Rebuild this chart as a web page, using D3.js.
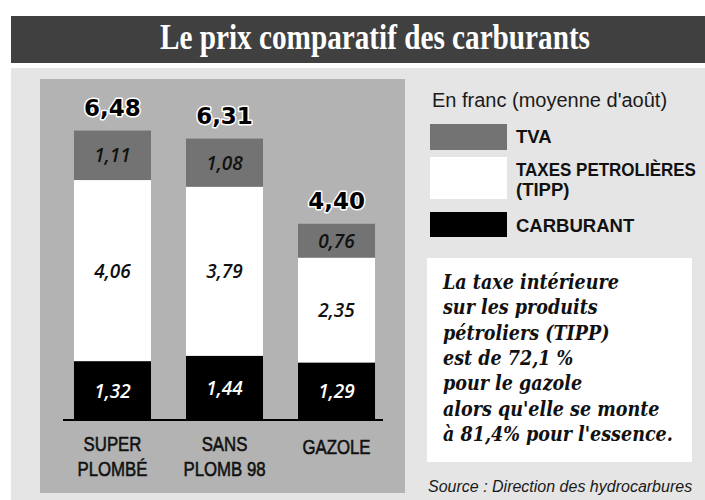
<!DOCTYPE html>
<html>
<head>
<meta charset="utf-8">
<script src="https://cdn.jsdelivr.net/npm/d3@7"></script>
<style>
  body { margin: 0; background: #ffffff; }
  svg { display: block; }
</style>
</head>
<body>
<div id="chart"></div>
<script>

// categories and values (francs, moyenne d'août)
const categories = [ 'SUPER PLOMBÉ', 'SANS PLOMB 98', 'GAZOLE' ];
const categoryLines = [ [ 'SUPER', 'PLOMBÉ' ], [ 'SANS', 'PLOMB 98' ], [ 'GAZOLE' ] ];
const carburant = [ 1.32, 1.44, 1.29 ];
const tipp = [ 4.06, 3.79, 2.35 ];
const tva = [ 1.11, 1.08, 0.76 ];
const totals = [ 6.48, 6.31, 4.40 ];

const seriesKeys = [ 'carburant', 'tipp', 'tva' ];
const legendKeys = [ 'tva', 'tipp', 'carburant' ];
const legendLabels = [ [ 'TVA' ], [ 'TAXES PETROLIÈRES', '(TIPP)' ], [ 'CARBURANT' ] ];

const noteLines = [
  'La taxe intérieure',
  'sur les produits',
  'pétroliers (TIPP)',
  'est de 72,1 %',
  'pour le gazole',
  'alors qu\'elle se monte',
  'à 81,4% pour l\'essence.'
];

const colors = { tva: '#737373', tipp: '#ffffff', carburant: '#000000' };
const labelColors = { tva: '#111111', tipp: '#111111', carburant: '#ffffff' };

const fr = d3.formatLocale( { decimal: ',', thousands: ' ', grouping: [ 3 ], currency: [ '', ' F' ] } );
const fmt = fr.format( '.2f' );

const width = 705;
const height = 500;

const rows = categories.map( ( c, i ) => ( {
  category: c,
  carburant: carburant[ i ],
  tipp: tipp[ i ],
  tva: tva[ i ],
  total: totals[ i ]
} ) );

/**
 * Creates the root svg
 */
function createSVGElement( container ) {
  return d3.select( container )
    .append( 'svg' )
    .attr( 'width', width )
    .attr( 'height', height );
}

/**
 * Squeezes a left anchored text horizontally if it is wider than maxWidth
 */
function fitText( node, maxWidth ) {
  const w = node.getComputedTextLength();
  if ( w > maxWidth ) {
    const t = d3.select( node );
    const x = +t.attr( 'x' );
    const y = +t.attr( 'y' );
    t.attr( 'x', 0 ).attr( 'y', 0 )
      .attr( 'transform', `translate(${x},${y}) scale(${maxWidth / w},1)` );
  }
}

const svg = createSVGElement( '#chart' );

// backgrounds
svg.append( 'rect' )
  .attr( 'x', 11 ).attr( 'y', 16 )
  .attr( 'width', width - 11 ).attr( 'height', 47 )
  .attr( 'fill', '#404040' );

svg.append( 'rect' )
  .attr( 'x', 11 ).attr( 'y', 68 )
  .attr( 'width', width - 11 ).attr( 'height', height - 68 )
  .attr( 'fill', '#e5e5e5' );

svg.append( 'rect' )
  .attr( 'x', 40 ).attr( 'y', 79 )
  .attr( 'width', 365 ).attr( 'height', 414 )
  .attr( 'fill', '#b3b3b3' );

// title
svg.append( 'text' )
  .attr( 'x', 375 )
  .attr( 'y', 49 )
  .attr( 'text-anchor', 'middle' )
  .attr( 'textLength', 430 )
  .attr( 'lengthAdjust', 'spacingAndGlyphs' )
  .style( 'font-family', '"Liberation Serif", "DejaVu Serif", serif' )
  .style( 'font-weight', 'bold' )
  .style( 'font-size', '35px' )
  .style( 'fill', '#ffffff' )
  .text( 'Le prix comparatif des carburants' );

// scales
const xScale = d3.scaleBand()
  .domain( categories )
  .range( [ 63, 386 ] )
  .paddingInner( 0.3125 )
  .paddingOuter( 0.098 );

const yScale = d3.scaleLinear()
  .domain( [ 0, d3.max( totals ) ] )
  .range( [ 420, 131 ] );

const stacked = d3.stack().keys( seriesKeys )( rows );

const plot = svg.append( 'g' );

const layers = plot.selectAll( 'g.layer' )
  .data( stacked )
  .join( 'g' )
  .attr( 'class', 'layer' );

layers.selectAll( 'rect' )
  .data( s => s.map( d => ( { key: s.key, d } ) ) )
  .join( 'rect' )
  .attr( 'x', p => xScale( p.d.data.category ) )
  .attr( 'y', p => yScale( p.d[ 1 ] ) )
  .attr( 'width', xScale.bandwidth() )
  .attr( 'height', p => yScale( p.d[ 0 ] ) - yScale( p.d[ 1 ] ) )
  .attr( 'fill', p => colors[ p.key ] );

// segment values
layers.selectAll( 'text' )
  .data( s => s.map( d => ( { key: s.key, d } ) ) )
  .join( 'text' )
  .attr( 'x', p => xScale( p.d.data.category ) + xScale.bandwidth() / 2 )
  .attr( 'y', p => ( yScale( p.d[ 0 ] ) + yScale( p.d[ 1 ] ) ) / 2 + 7 )
  .attr( 'text-anchor', 'middle' )
  .style( 'font-family', '"Open Sans", "DejaVu Sans", sans-serif' )
  .style( 'font-style', 'italic' )
  .style( 'font-weight', '600' )
  .style( 'font-size', '19px' )
  .style( 'fill', p => labelColors[ p.key ] )
  .text( p => fmt( p.d.data[ p.key ] ) );

// totals above bars, outlined in white
plot.selectAll( 'text.total' )
  .data( rows )
  .join( 'text' )
  .attr( 'class', 'total' )
  .attr( 'x', d => xScale( d.category ) + xScale.bandwidth() / 2 )
  .attr( 'y', d => yScale( d.total ) - 15 )
  .attr( 'text-anchor', 'middle' )
  .style( 'font-family', '"DejaVu Sans", sans-serif' )
  .style( 'font-weight', 'bold' )
  .style( 'font-size', '23px' )
  .style( 'fill', '#000000' )
  .style( 'stroke', '#ffffff' )
  .style( 'stroke-width', '3px' )
  .style( 'paint-order', 'stroke' )
  .style( 'stroke-linejoin', 'round' )
  .text( d => fmt( d.total ) );

// baseline
plot.append( 'line' )
  .attr( 'x1', 63 ).attr( 'x2', 383 )
  .attr( 'y1', yScale( 0 ) ).attr( 'y2', yScale( 0 ) )
  .attr( 'stroke', '#000000' )
  .attr( 'stroke-width', 2 );

// category labels, one condensed text per line
const catLabels = plot.selectAll( 'g.cat' )
  .data( categories )
  .join( 'g' )
  .attr( 'class', 'cat' );

catLabels.selectAll( 'text' )
  .data( ( d, i ) => categoryLines[ i ].map( ( line, j ) => ( { cat: d, line, j, n: categoryLines[ i ].length } ) ) )
  .join( 'text' )
  .attr( 'transform', p => {
    const cx = xScale( p.cat ) + xScale.bandwidth() / 2;
    const cy = p.n > 1 ? 451 + p.j * 24.5 : 454;
    return `translate(${cx},${cy}) scale(0.8,1)`;
  } )
  .attr( 'text-anchor', 'middle' )
  .style( 'font-family', '"Liberation Sans", Arial, sans-serif' )
  .style( 'font-size', '21px' )
  .style( 'fill', '#111111' )
  .style( 'stroke', '#111111' )
  .style( 'stroke-width', '0.6px' )
  .text( p => p.line );

// legend
svg.append( 'text' )
  .attr( 'x', 432 )
  .attr( 'y', 107 )
  .style( 'font-family', '"Liberation Sans", sans-serif' )
  .style( 'font-size', '20px' )
  .style( 'fill', '#1a1a1a' )
  .text( 'En franc (moyenne d\'août)' );

const legendBoxes = [ [ 124, 150 ], [ 157, 199 ], [ 212, 237 ] ];
const legendBaselines = [ 143, 176, 232 ];

const legend = svg.append( 'g' );

legend.selectAll( 'rect' )
  .data( legendKeys )
  .join( 'rect' )
  .attr( 'x', 430 )
  .attr( 'y', ( d, i ) => legendBoxes[ i ][ 0 ] )
  .attr( 'width', 77 )
  .attr( 'height', ( d, i ) => legendBoxes[ i ][ 1 ] - legendBoxes[ i ][ 0 ] )
  .attr( 'fill', d => colors[ d ] );

const legendGroups = legend.selectAll( 'g' )
  .data( legendKeys )
  .join( 'g' );

legendGroups.selectAll( 'text' )
  .data( ( d, i ) => legendLabels[ i ].map( ( line, j ) => ( { line, y: legendBaselines[ i ] + j * 19.5 } ) ) )
  .join( 'text' )
  .attr( 'x', 516 )
  .attr( 'y', p => p.y )
  .style( 'font-family', '"Liberation Sans", sans-serif' )
  .style( 'font-weight', 'bold' )
  .style( 'font-size', '18.5px' )
  .style( 'fill', '#111111' )
  .text( p => p.line )
  .each( function() { fitText( this, 180 ); } );

// note box
svg.append( 'rect' )
  .attr( 'x', 427 ).attr( 'y', 258 )
  .attr( 'width', 265 ).attr( 'height', 204 )
  .attr( 'fill', '#ffffff' );

svg.append( 'g' )
  .selectAll( 'text' )
  .data( noteLines )
  .join( 'text' )
  .attr( 'x', 443 )
  .attr( 'y', ( d, i ) => 289 + i * 25.3 )
  .style( 'font-family', '"DejaVu Serif Condensed", "DejaVu Serif", serif' )
  .style( 'font-weight', 'bold' )
  .style( 'font-style', 'italic' )
  .style( 'font-size', '19.5px' )
  .style( 'fill', '#111111' )
  .text( d => d )
  .each( function() { fitText( this, 230 ); } );

// source
svg.append( 'text' )
  .attr( 'x', 428 )
  .attr( 'y', 492 )
  .style( 'font-family', '"Liberation Sans", sans-serif' )
  .style( 'font-style', 'italic' )
  .style( 'font-size', '16px' )
  .style( 'fill', '#1a1a1a' )
  .text( 'Source : Direction des hydrocarbures' );

</script>
</body>
</html>
